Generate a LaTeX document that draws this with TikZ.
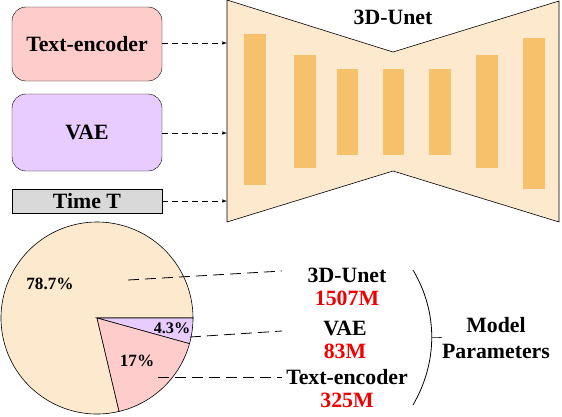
\documentclass[tikz,border=0pt]{standalone}
\usepackage{fontspec}
\setmainfont{Liberation Serif}
\usetikzlibrary{positioning}
\definecolor{tepink}{RGB}{255,204,204}
\definecolor{vaelilac}{RGB}{233,204,255}
\definecolor{timegray}{RGB}{217,217,217}
\definecolor{unetpeach}{RGB}{253,234,206}
\definecolor{unetbar}{RGB}{247,192,106}
\definecolor{numred}{RGB}{240,0,0}

\begin{document}
\begin{tikzpicture}[x = 1pt, y = -1pt,
        font = \fontsize{21.8}{26}\selectfont\bfseries,
        block/.style = {draw = black, rounded corners = 14pt, minimum width = 150pt, inner sep = 0pt},
        feed/.style = {semithick, dash pattern = on 6pt off 4pt, -{latex}},
        lead/.style = {thick, dash pattern = on 11pt off 6pt},
        pct/.style = {font = \fontsize{17.2}{19}\selectfont\bfseries, inner sep = 0pt},
        num/.style = {text = numred, inner sep = 0pt},
        lbl/.style = {inner sep = 0pt}]
        \useasboundingbox (0, 0) rectangle (562, 416);

        % inputs
        \node [block, fill = tepink, minimum height = 74pt] (te) at (87, 44) {Text-encoder};
        \node [block, fill = vaelilac, minimum height = 77pt] (vae) at (87, 132.5) {VAE};
        \node [block, fill = timegray, rounded corners = 0pt, minimum height = 24pt] (time) at (87, 201) {Time T};

        % 3D-Unet
        \coordinate (ul) at (227, 0);
        \filldraw [fill = unetpeach, semithick] (ul) -- (393, 52) -- (559, 1) -- (559, 222) -- (393, 171) -- (227, 222) -- cycle;
        \foreach \xa/\xb/\ya/\yb in {244/266/34/185, 294/316/55/168, 337/358/69/155, 383/404/69/155,
                                     429/451/69/155, 476/498/55/168, 523/545/38/189}
            \fill [unetbar] (\xa, \ya) rectangle (\xb, \yb);
        \node [lbl] (unet) at (393, 17) {3D-Unet};

        \draw [feed] (te.east |- 0, 43) -- (ul |- 0, 43);
        \draw [feed] (vae.east |- 0, 133) -- (ul |- 0, 133);
        \draw [feed] (time.east) -- (time.east -| ul);

        % pie chart
        \coordinate (pc) at (97, 318);
        \filldraw [fill = unetpeach, semithick] (pc) -- ++(76.7:96) arc [start angle = 76.7, end angle = 360, radius = 96] -- cycle;
        \filldraw [fill = vaelilac, semithick] (pc) -- ++(0:96) arc [start angle = 0, end angle = 15.5, radius = 96] -- cycle;
        \filldraw [fill = tepink, semithick] (pc) -- ++(15.5:96) arc [start angle = 15.5, end angle = 76.7, radius = 96] -- cycle;
        \node [pct] (p787) at (50, 284) {78.7\%};
        \node [pct, font = \fontsize{16.2}{18}\selectfont\bfseries] (p43) at (172, 328) {4.3\%};
        \node [pct] (p17) at (137, 361) {17\%};

        % sizes
        \node [lbl] (nunet) at (347, 275) {3D-Unet};
        \node [num] (munet) at (347, 298) {1507M};
        \node [lbl] (nvae) at (345, 328) {VAE};
        \node [num] (mvae) at (345, 351) {83M};
        \node [lbl] (nte) at (347, 377) {Text-encoder};
        \node [num] (mte) at (347, 400) {325M};

        \coordinate (lu1) at (128, 280);
        \coordinate (lu2) at (282, 271);
        \coordinate (lv1) at (190, 337);
        \coordinate (lv2) at (282, 331);
        \coordinate (lt1) at (158, 377);
        \coordinate (lt2) at (282, 377);
        \draw [lead] (lu1) -- (lu2);
        \draw [lead] (lv1) -- (lv2);
        \draw [lead] (lt1) -- (lt2);

        % brace
        \coordinate (btop) at (413, 270);
        \coordinate (bbot) at (413, 405);
        \coordinate (bmid) at (432, 337);
        \draw [thick] (btop) .. controls (438, 312) and (438, 362) .. (bbot);
        \node [lbl, align = center] (mp) at (496, 338) {Model\\Parameters};
        \draw [thick] (bmid) -- (bmid -| mp.west) -- ++(-3, 0);
\end{tikzpicture}
\end{document}
